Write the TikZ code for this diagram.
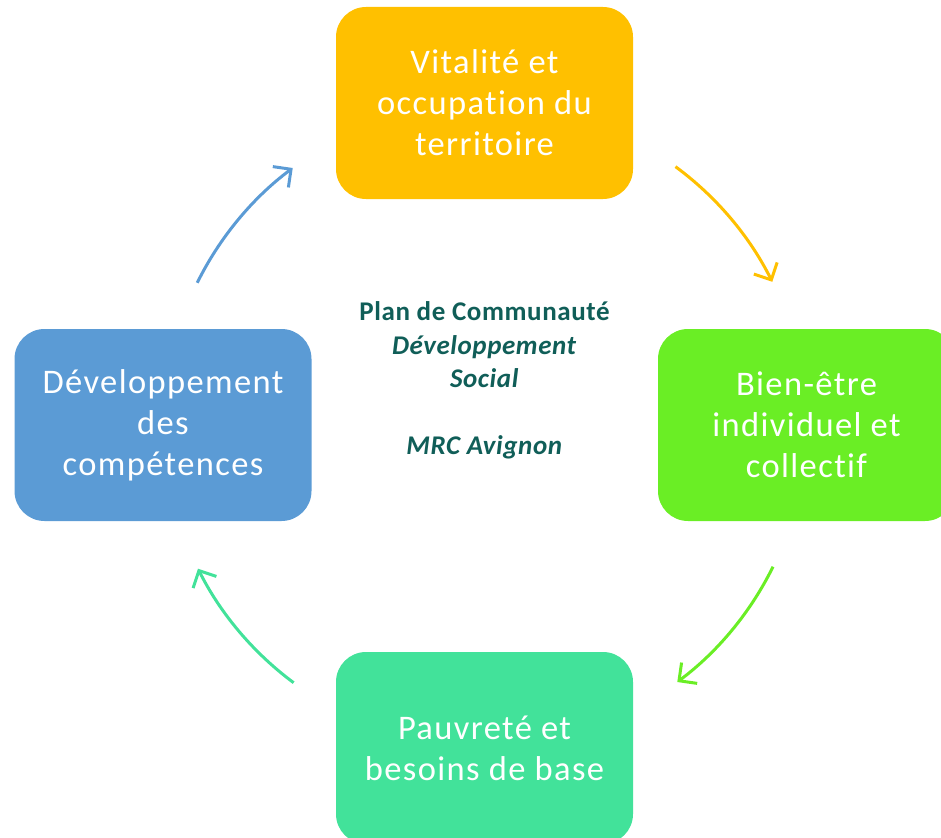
\documentclass[tikz,border=0pt]{standalone}
\usepackage{fontspec}
\setmainfont{Carlito}[Ligatures={NoCommon}]
\usetikzlibrary{arrows.meta}
\definecolor{cOrange}{HTML}{FFC000}
\definecolor{cGreen}{HTML}{6AEE25}
\definecolor{cTeal}{HTML}{42E29A}
\definecolor{cBlue}{HTML}{5B9BD5}
\definecolor{cText}{HTML}{105E58}
\begin{document}
\begin{tikzpicture}[x=1pt,y=-1pt,
  box/.style={rounded corners=30pt, minimum width=297pt, minimum height=192pt,
    inner sep=0pt, align=center, text=white,
    font=\fontsize{34.5}{41}\selectfont\addfontfeature{LetterSpace=4}},
  cyc/.style={line width=3pt, -{Straight Barb[length=13pt,width=26pt,line width=3pt]}}]
\useasboundingbox (0,0) rectangle (941,837);
\clip (0,0) rectangle (941,837);
\node[box, fill=cOrange] (vit) at (484.5,103) {Vitalité et\\occupation du\\territoire};
\node[box, fill=cGreen] (bien) at (806.5,425) {Bien-être\\individuel et\\collectif};
\node[box, fill=cTeal] (pauv) at (484.5,748) {Pauvreté et\\besoins de base};
\node[box, fill=cBlue] (dev) at (163,425) {Développement\\des\\compétences};
\node[font=\bfseries\fontsize{27}{33.5}\selectfont\addfontfeature{LetterSpace=2.2}, text=cText, align=center] (plan) at (484.5,380.5)
  {Plan de Communauté\\\textit{Développement}\\\textit{Social}\\~\\\textit{MRC Avignon}};
\coordinate (c) at (485,425);
\draw[cyc, cOrange] ([shift={(-53.6:321)}]c) arc[start angle=-53.6, end angle=-26.5, radius=321];
\draw[cyc, cGreen] ([shift={(26.2:321)}]c) arc[start angle=26.2, end angle=53.2, radius=321];
\draw[cyc, cTeal] ([shift={(126.6:321)}]c) arc[start angle=126.6, end angle=153.4, radius=321];
\draw[cyc, cBlue] ([shift={(206.3:321)}]c) arc[start angle=206.3, end angle=233.2, radius=321];
\end{tikzpicture}
\end{document}
